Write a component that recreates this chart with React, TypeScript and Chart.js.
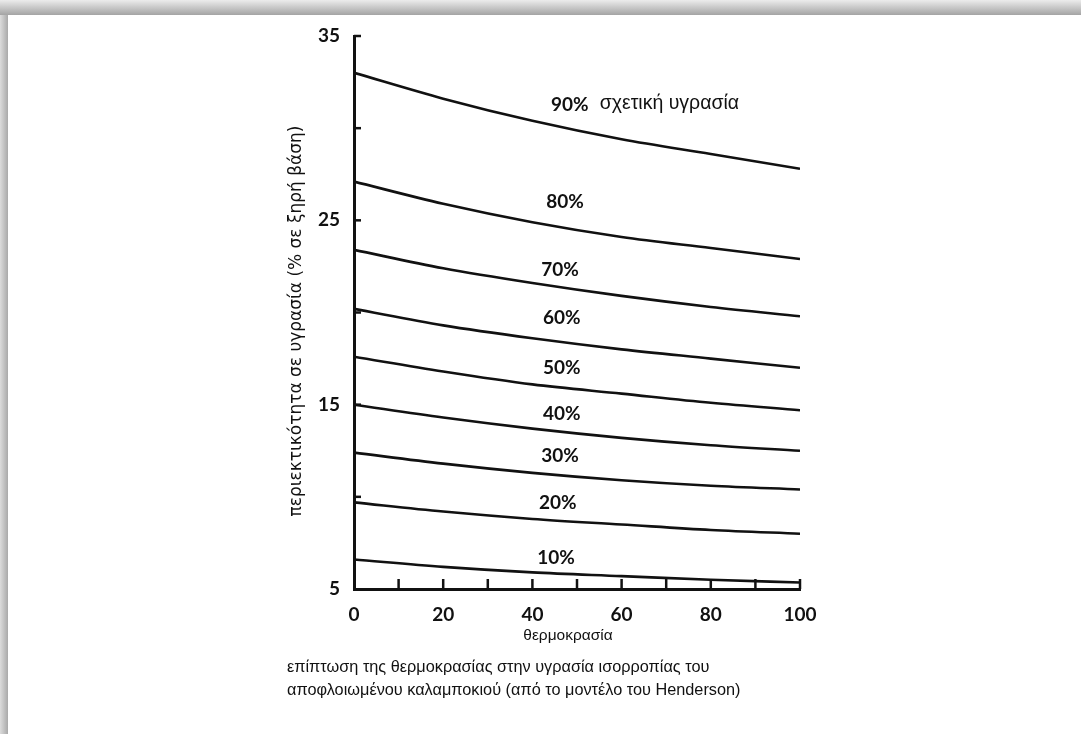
import React, { useEffect, useRef } from "react";
import { Chart, registerables } from "chart.js";

Chart.register(...registerables);

// ---- data ----
const temperatures = [0, 20, 40, 60, 80, 100];
const humidityLabels = ["90%", "80%", "70%", "60%", "50%", "40%", "30%", "20%", "10%"];
const rh90 = [33.0, 31.6, 30.4, 29.4, 28.6, 27.8];
const rh80 = [27.1, 25.9, 24.9, 24.1, 23.5, 22.9];
const rh70 = [23.4, 22.4, 21.6, 20.9, 20.3, 19.8];
const rh60 = [20.2, 19.3, 18.6, 18.0, 17.5, 17.0];
const rh50 = [17.6, 16.8, 16.1, 15.6, 15.1, 14.7];
const rh40 = [15.0, 14.3, 13.7, 13.2, 12.8, 12.5];
const rh30 = [12.4, 11.8, 11.3, 10.9, 10.6, 10.4];
const rh20 = [9.7, 9.2, 8.8, 8.5, 8.2, 8.0];
const rh10 = [6.6, 6.2, 5.9, 5.7, 5.5, 5.35];
const seriesValues = [rh90, rh80, rh70, rh60, rh50, rh40, rh30, rh20, rh10];
// label anchor points (data units)
const curveLabelX = [48.4, 47.3, 46.2, 46.6, 46.6, 46.6, 46.2, 45.7, 45.3];
const curveLabelY = [31.25, 26.0, 22.3, 19.7, 17.0, 14.5, 12.2, 9.67, 6.7];
const firstLabelSuffix = "σχετική υγρασία";
const xLabeledTicks = [0, 20, 40, 60, 80, 100];
const yLabeledTicks = [35, 25, 15, 5];
const xTitle = "θερμοκρασία";
const yTitle = "περιεκτικότητα σε υγρασία (% σε ξηρή βάση)";
const captionLines = [
  "επίπτωση της θερμοκρασίας στην υγρασία ισορροπίας του",
  "αποφλοιωμένου καλαμποκιού (από το μοντέλο του Henderson)",
];

const INK = "#111";

function fitFont(ctx: CanvasRenderingContext2D, text: string, family: string, weight: string, target: number) {
  let size = 10;
  for (let s = 8; s <= 30; s += 0.25) {
    ctx.font = `${weight} ${s}px ${family}`;
    if (ctx.measureText(text).width <= target) size = s;
  }
  return `${weight} ${size}px ${family}`;
}

const decorPlugin = {
  id: "decor",
  afterDraw(chart: any) {
    const { ctx, chartArea } = chart;
    const xs = chart.scales.x;
    const ys = chart.scales.y;
    ctx.save();
    ctx.strokeStyle = INK;
    ctx.lineWidth = 2.5;
    ctx.lineCap = "butt";
    // inward x ticks
    for (let v = 10; v <= 100; v += 10) {
      const px = xs.getPixelForValue(v);
      ctx.beginPath();
      ctx.moveTo(px, chartArea.bottom);
      ctx.lineTo(px, chartArea.bottom - 10);
      ctx.stroke();
    }
    // inward y ticks
    for (let v = 10; v <= 35; v += 5) {
      const py = ys.getPixelForValue(v);
      ctx.beginPath();
      ctx.moveTo(chartArea.left, py);
      ctx.lineTo(chartArea.left + 7, py);
      ctx.stroke();
    }
    // curve labels
    ctx.fillStyle = INK;
    ctx.textBaseline = "middle";
    humidityLabels.forEach((lab, i) => {
      ctx.font = "bold 19px Lato, 'DejaVu Sans', sans-serif";
      const px = xs.getPixelForValue(curveLabelX[i]);
      const py = ys.getPixelForValue(curveLabelY[i]);
      ctx.textAlign = "center";
      ctx.fillText(lab, px, py);
      if (i === 0) {
        const w = ctx.measureText(lab).width;
        ctx.font = fitFont(ctx, firstLabelSuffix, "'Liberation Sans', Arial, sans-serif", "normal", 140);
        ctx.textAlign = "left";
        ctx.fillText(firstLabelSuffix, px + w / 2 + 11, py - 2);
      }
    });
    // x title
    ctx.textAlign = "center";
    ctx.font = "15.5px 'Liberation Sans', Arial, sans-serif";
    ctx.fillText(xTitle, 568, 636);
    // y title
    ctx.save();
    ctx.translate(297, 321);
    ctx.rotate(-Math.PI / 2);
    ctx.font = fitFont(ctx, yTitle, "'DejaVu Sans', sans-serif", "normal", 395);
    ctx.fillText(yTitle, 0, 0);
    ctx.restore();
    ctx.restore();
  },
};

export default function App() {
  const canvasRef = useRef<HTMLCanvasElement | null>(null);

  useEffect(() => {
    const canvas = canvasRef.current;
    if (!canvas) return;
    const datasets = seriesValues.map((vals, i) => ({
      label: humidityLabels[i],
      data: temperatures.map((t, j) => ({ x: t, y: vals[j] })),
      borderColor: INK,
      borderWidth: 2.6,
      pointRadius: 0,
      fill: false,
      cubicInterpolationMode: "monotone" as const,
    }));
    const chart = new Chart(canvas, {
      type: "line",
      data: { datasets },
      options: {
        animation: false,
        responsive: false,
        layout: { padding: { left: 270, top: 36, right: 281, bottom: 105 } },
        plugins: { legend: { display: false }, tooltip: { enabled: false } },
        scales: {
          x: {
            type: "linear",
            min: 0,
            max: 100,
            afterFit: (s: any) => {
              s.height = 40;
            },
            ticks: {
              stepSize: 10,
              autoSkip: false,
              maxRotation: 0,
              padding: 14,
              color: INK,
              font: { family: "Lato, 'DejaVu Sans', sans-serif", size: 19, weight: "bold" },
              callback: (v: any) => (xLabeledTicks.includes(Number(v)) ? String(v) : ""),
            },
            grid: { display: true, drawOnChartArea: false, drawTicks: false },
            border: { display: true, color: INK, width: 3 },
          },
          y: {
            type: "linear",
            min: 5,
            max: 35,
            afterFit: (s: any) => {
              s.width = 84;
            },
            ticks: {
              stepSize: 5,
              autoSkip: false,
              padding: 14,
              color: INK,
              font: { family: "Lato, 'DejaVu Sans', sans-serif", size: 19, weight: "bold" },
              callback: (v: any) => (yLabeledTicks.includes(Number(v)) ? String(v) : ""),
            },
            grid: { display: true, drawOnChartArea: false, drawTicks: false },
            border: { display: true, color: INK, width: 3 },
          },
        },
      },
      plugins: [decorPlugin],
    });
    return () => chart.destroy();
  }, []);

  return (
    <div
      style={{
        position: "absolute",
        left: 0,
        top: 0,
        width: 1081,
        height: 734,
        background: "#fff",
        overflow: "hidden",
      }}
    >
      <div
        style={{
          position: "absolute",
          left: 0,
          top: 0,
          width: 8,
          height: 734,
          background: "linear-gradient(to right, #dcdcdc, #a9a9a9)",
        }}
      />
      <div
        style={{
          position: "absolute",
          left: 0,
          top: 0,
          width: 1081,
          height: 15,
          background: "linear-gradient(to bottom, #ececec, #a4a4a4)",
        }}
      />
      <canvas
        ref={canvasRef}
        width={1081}
        height={734}
        style={{ position: "absolute", left: 0, top: 0, width: 1081, height: 734 }}
      />
      <div
        style={{
          position: "absolute",
          left: 287,
          top: 655,
          fontFamily: "'Liberation Sans', Arial, sans-serif",
          fontSize: 16.3,
          lineHeight: "23px",
          color: INK,
          whiteSpace: "nowrap",
        }}
      >
        {captionLines.map((l, i) => (
          <div key={i}>{l}</div>
        ))}
      </div>
    </div>
  );
}
